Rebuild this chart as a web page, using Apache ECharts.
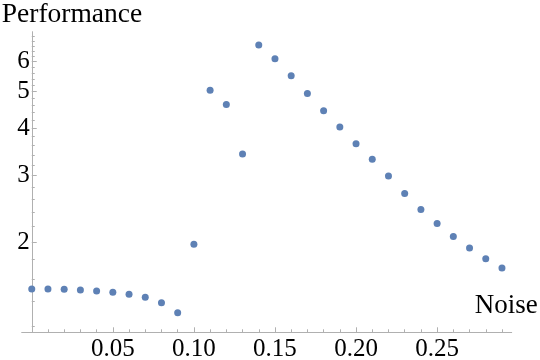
<!DOCTYPE html>
<html>
<head>
<meta charset="utf-8">
<script src="https://cdn.jsdelivr.net/npm/echarts@6/dist/echarts.min.js"></script>
<style>html,body{margin:0;padding:0;background:#fff}#c{width:540px;height:360px}</style>
</head>
<body>
<div id="c"></div>
<script>
const noise = [0.00,0.01,0.02,0.03,0.04,0.05,0.06,0.07,0.08,0.09,0.10,0.11,0.12,0.13,0.14,0.15,0.16,0.17,0.18,0.19,0.20,0.21,0.22,0.23,0.24,0.25,0.26,0.27,0.28,0.29];
const performance = [1.505,1.505,1.504,1.497,1.488,1.476,1.458,1.431,1.385,1.303,1.976,5.04,4.62,3.42,6.63,6.10,5.50,4.94,4.45,4.03,3.64,3.31,2.99,2.69,2.44,2.24,2.07,1.93,1.81,1.71];
const xTickLabels = [0.05,0.10,0.15,0.20,0.25];
const xMinorTicks = [0.01,0.02,0.03,0.04,0.06,0.07,0.08,0.09,0.11,0.12,0.13,0.14,0.16,0.17,0.18,0.19,0.21,0.22,0.23,0.24,0.26,0.27,0.28,0.29];
const yTickLabels = [2,3,4,5,6];
const yMinorTicks = [1.2,1.4,1.6,1.8,2.2,2.4,2.6,2.8,3.2,3.4,3.6,3.8,4.2,4.4,4.6,4.8,5.2,5.4,5.6,5.8,6.2,6.4,6.6,6.8,7.0];

const axisGray = '#b0b0b0';
const font = 'Liberation Serif';
const xMin = -0.0062, xMax = 0.296;
const gridLeft = 21.7, gridRight = 28.3;
const yAxisShift = -(0 - xMin) / (xMax - xMin) * (540 - gridLeft - gridRight);
const chart = echarts.init(document.getElementById('c'), null, {renderer:'canvas'});
chart.setOption({
  animation:false,
  grid:{left:gridLeft,right:gridRight,top:31.7,bottom:27.7,containLabel:false,outerBoundsMode:'none'},
  xAxis:[{
    type:'value', min:xMin, max:xMax, position:'bottom',
    name:'Noise', nameLocation:'end', nameGap:-37,
    nameTextStyle:{fontFamily:font,fontSize:27,color:'#000',align:'left',verticalAlign:'bottom',padding:[0,0,13,0]},
    axisLine:{show:true,onZero:false,lineStyle:{color:axisGray,width:1}},
    axisTick:{show:true,inside:true,length:5,customValues:xTickLabels,lineStyle:{color:axisGray}},
    axisLabel:{show:true,customValues:xTickLabels,formatter:v=>v.toFixed(2),fontFamily:font,fontSize:25,color:'#000',margin:5},
    splitLine:{show:false}
  },{
    type:'value', min:xMin, max:xMax, position:'bottom', offset:0,
    axisLine:{show:false,onZero:false},
    axisTick:{show:true,inside:true,length:3,customValues:xMinorTicks,lineStyle:{color:axisGray}},
    axisLabel:{show:false},
    splitLine:{show:false}
  }],
  yAxis:[{
    type:'log', logBase:10, min:1.157, max:7.19, position:'left', offset:yAxisShift,
    name:'Performance', nameLocation:'end', nameGap:3,
    nameTextStyle:{fontFamily:font,fontSize:27.5,color:'#000',align:'left',verticalAlign:'bottom',padding:[0,0,0,-30]},
    axisLine:{show:true,onZero:false,lineStyle:{color:axisGray,width:1}},
    axisTick:{show:true,inside:true,length:5,customValues:yTickLabels,lineStyle:{color:axisGray}},
    axisLabel:{show:true,customValues:yTickLabels,fontFamily:font,fontSize:25,color:'#000',margin:2},
    splitLine:{show:false}
  },{
    type:'log', logBase:10, min:1.157, max:7.19, position:'left', offset:yAxisShift,
    axisLine:{show:false,onZero:false},
    axisTick:{show:true,inside:true,length:3,customValues:yMinorTicks,lineStyle:{color:axisGray}},
    axisLabel:{show:false},
    splitLine:{show:false}
  }],
  series:[{
    type:'scatter',
    xAxisIndex:0, yAxisIndex:0,
    symbol:'circle', symbolSize:7,
    itemStyle:{color:'#5E81B5',opacity:1},
    data:noise.map((x,i)=>[x,performance[i]])
  }]
});
</script>
</body>
</html>
